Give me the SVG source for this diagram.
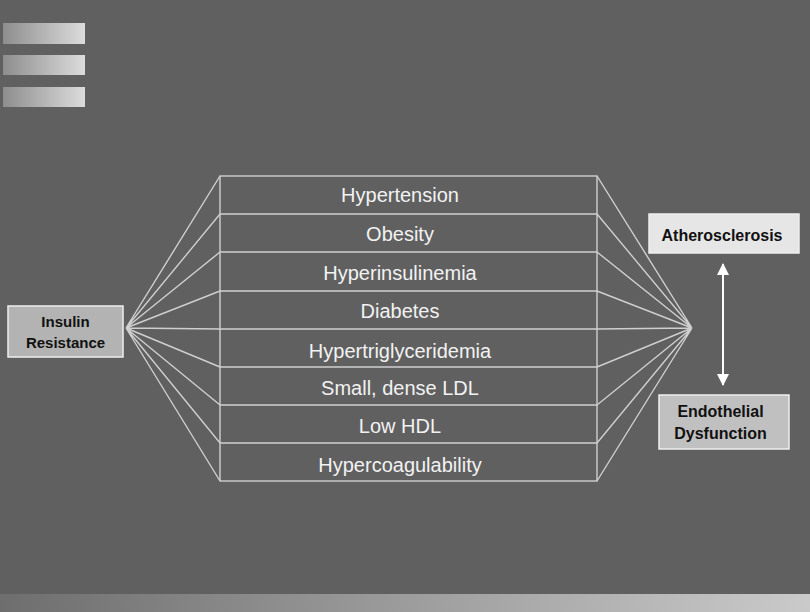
<svg xmlns="http://www.w3.org/2000/svg" width="810" height="612" viewBox="0 0 810 612">
<defs>
<linearGradient id="bar" x1="0" y1="0" x2="1" y2="0">
<stop offset="0" stop-color="#8e8e8e"/>
<stop offset="1" stop-color="#dcdcdc"/>
</linearGradient>
<linearGradient id="foot" x1="0" y1="0" x2="1" y2="0">
<stop offset="0" stop-color="#6e6e6e"/>
<stop offset="1" stop-color="#cacaca"/>
</linearGradient>
<marker id="ah" viewBox="0 0 12 12" refX="11" refY="6" markerWidth="12" markerHeight="12" markerUnits="userSpaceOnUse" orient="auto-start-reverse">
<path d="M0,0 L12,6 L0,12 Z" fill="#ffffff"/>
</marker>
<style>
.row{fill:#f2f2f2;font-family:"Liberation Sans",Arial,sans-serif;font-size:20px;text-anchor:middle}
.lbl{fill:#111;font-family:"Liberation Sans",Arial,sans-serif;font-weight:bold;text-anchor:middle}
.ln{stroke:#cfcfcf;stroke-width:1.4;fill:none}
.box{stroke:#eeeeee;stroke-width:1.5}
</style>
</defs>
<rect x="0" y="0" width="810" height="612" fill="#606060"/>
<rect x="0" y="594" width="810" height="18" fill="url(#foot)"/>
<rect x="3" y="23" width="82" height="21" fill="url(#bar)"/>
<rect x="3" y="55" width="82" height="20" fill="url(#bar)"/>
<rect x="3" y="87" width="82" height="20" fill="url(#bar)"/>

<g id="connectors" class="ln">
<path d="M126,328 L220,176 M126,328 L220,214 M126,328 L220,252 M126,328 L220,291 M126,328 L220,329 M126,328 L220,367 M126,328 L220,405 M126,328 L220,443 M126,328 L220,481"/>
<path d="M692,328 L597,176 M692,328 L597,214 M692,328 L597,252 M692,328 L597,291 M692,328 L597,329 M692,328 L597,367 M692,328 L597,405 M692,328 L597,443 M692,328 L597,481"/>
<line x1="723" y1="264" x2="723" y2="385" stroke="#ffffff" stroke-width="2" marker-start="url(#ah)" marker-end="url(#ah)"/>
</g>

<g id="table" class="ln">
<rect x="220" y="176" width="377" height="305"/>
<path d="M220,214 H597 M220,252 H597 M220,291 H597 M220,329 H597 M220,367 H597 M220,405 H597 M220,443 H597"/>
</g>
<g id="row-hypertension"><text class="row" x="400" y="202">Hypertension</text></g>
<g id="row-obesity"><text class="row" x="400" y="241">Obesity</text></g>
<g id="row-hyperinsulinemia"><text class="row" x="400" y="280">Hyperinsulinemia</text></g>
<g id="row-diabetes"><text class="row" x="400" y="318">Diabetes</text></g>
<g id="row-hypertriglyceridemia"><text class="row" x="400" y="358">Hypertriglyceridemia</text></g>
<g id="row-ldl"><text class="row" x="400" y="395">Small, dense LDL</text></g>
<g id="row-hdl"><text class="row" x="400" y="433">Low HDL</text></g>
<g id="row-hypercoag"><text class="row" x="400" y="472">Hypercoagulability</text></g>

<g id="insulin-resistance">
<rect class="box" x="8" y="306" width="115" height="51" fill="#b3b3b3"/>
<text class="lbl" x="65.5" y="327" font-size="15">Insulin</text>
<text class="lbl" x="65.5" y="348" font-size="15">Resistance</text>
</g>
<g id="atherosclerosis">
<rect class="box" x="649" y="214" width="150" height="39" fill="#e6e6e6"/>
<text class="lbl" x="722" y="240.5" font-size="16">Atherosclerosis</text>
</g>
<g id="endothelial">
<rect class="box" x="659" y="395" width="130" height="54" fill="#c0c0c0"/>
<text class="lbl" x="720.5" y="417" font-size="16">Endothelial</text>
<text class="lbl" x="720.5" y="439" font-size="16">Dysfunction</text>
</g>
</svg>
